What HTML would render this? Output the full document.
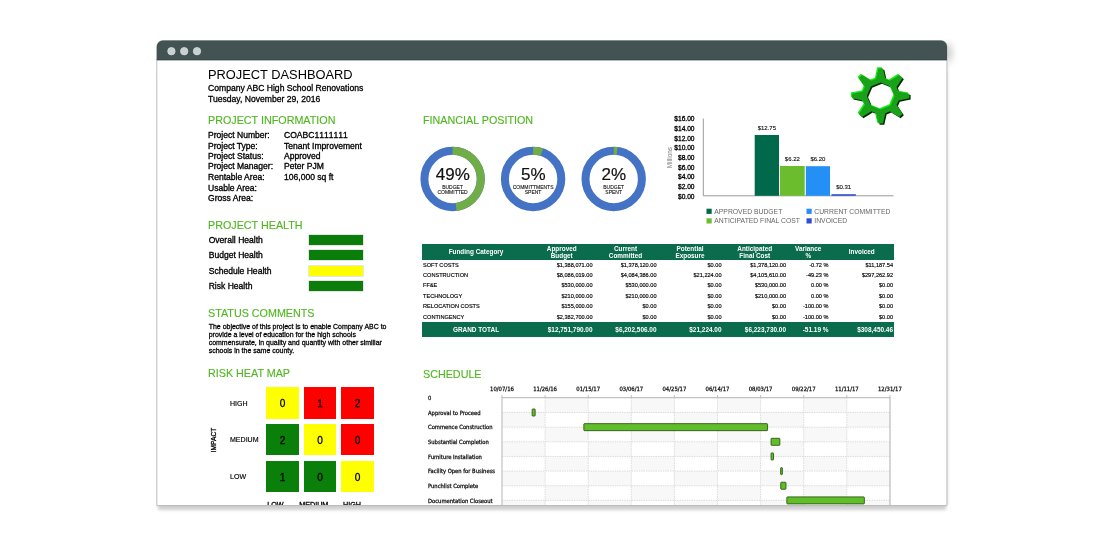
<!DOCTYPE html>
<html lang="en">
<head>
<meta charset="utf-8">
<title>Project Dashboard</title>
<style>
html,body{margin:0;padding:0;background:#fff;}
body{width:1104px;height:552px;position:relative;overflow:hidden;font-family:"Liberation Sans",Arial,sans-serif;color:#000;}
.abs{position:absolute;white-space:nowrap;}
#win{position:absolute;left:157px;top:64px;width:790px;height:441px;background:#fff;box-shadow:0 6px 3px -1px rgba(0,0,0,.19),1.5px 0 2.5px rgba(0,0,0,.06);}
#tsh{position:absolute;left:940px;top:42px;width:6px;height:16px;box-shadow:4px 3px 8px rgba(0,0,0,.33);}
#page{position:absolute;left:0;top:0;width:1104px;height:505px;overflow:hidden;}
h1{position:absolute;margin:0;left:208px;top:66.9px;font-size:12.85px;font-weight:400;line-height:15px;white-space:nowrap;}
.sub{position:absolute;left:208px;font-size:8.6px;line-height:10.4px;white-space:nowrap;-webkit-text-stroke:.3px #000;}
h2{position:absolute;margin:0;font-size:10.75px;font-weight:400;color:#4fb71f;line-height:13px;white-space:nowrap;-webkit-text-stroke:.12px #4fb71f;}
.info{position:absolute;left:208px;top:130px;font-size:8.55px;line-height:10.45px;-webkit-text-stroke:.32px #000;}
.info div{position:absolute;left:0;white-space:nowrap;height:10.45px;}
.info span{position:absolute;left:76px;}
.hl{position:absolute;left:208.7px;margin-top:.7px;font-size:8.55px;line-height:11px;white-space:nowrap;-webkit-text-stroke:.32px #000;}
.hb{position:absolute;left:309px;width:54px;height:10px;background:#0b7d0b;box-shadow:0 0 0 .5px #ccc;}
.cm{position:absolute;left:208.7px;top:322.9px;font-size:6.97px;line-height:8px;white-space:nowrap;-webkit-text-stroke:.27px #000;}
.cell{position:absolute;width:32.5px;height:31.3px;font-size:10.1px;line-height:34.6px;text-align:center;-webkit-text-stroke:.3px #000;}
.g{background:#0a7f0a;}.y{background:#ffff00;}.r{background:#ff0000;}
.rl{position:absolute;left:230px;margin-top:.5px;font-size:7.05px;line-height:10px;white-space:nowrap;-webkit-text-stroke:.15px #000;}
table{position:absolute;left:422px;top:244px;width:472px;border-collapse:collapse;table-layout:fixed;font-size:5.6px;}
th{background:#0b6b4d;color:#fff;font-weight:700;font-size:6.4px;line-height:7.2px;height:15.5px;padding:0;text-align:center;vertical-align:middle;}
td{padding:0 1px 0 0;height:10.4px;line-height:10.4px;text-align:right;white-space:nowrap;-webkit-text-stroke:.15px #000;}
td:first-child{text-align:left;padding-left:1px;}
tr.gt td{background:#0b6b4d;color:#fff;font-weight:700;font-size:6.45px;height:15.5px;line-height:15.5px;-webkit-text-stroke:0;}
tr.gt td:first-child{text-align:center;}
svg text{font-family:"Liberation Sans",Arial,sans-serif;}
svg text.dv{font-family:"DejaVu Sans Condensed","DejaVu Sans","Liberation Sans",sans-serif;}
</style>
</head>
<body>
<div id="win"></div>
<div id="tsh"></div>
<svg class="abs" style="left:0;top:0" width="1104" height="552" viewBox="0 0 1104 552">
<path d="M156.8 505.6V46.6a6 6 0 0 1 6-6H940.9a6 6 0 0 1 6 6V505.6Z" fill="#fff" stroke="#a6a6a6" stroke-width=".7"/>
<path d="M156.8 60.2V46.6a6 6 0 0 1 6-6H941a6 6 0 0 1 6 6V60.2Z" fill="#435353"/>
<path d="M156.8 59.7H947" stroke="#3a4949" stroke-width="1"/>
<g fill="#c7d1d1" stroke="#d3dbdb" stroke-width=".8"><circle cx="171.4" cy="51.2" r="3.7"/><circle cx="184.2" cy="51.2" r="3.7"/><circle cx="197" cy="51.2" r="3.7"/></g>
</svg>
<div id="page">
<h1>PROJECT DASHBOARD</h1>
<div class="sub" style="top:83px">Company ABC High School Renovations</div>
<div class="sub" style="top:94.2px">Tuesday, November 29, 2016</div>

<h2 style="left:208px;top:114px">PROJECT INFORMATION</h2>
<div class="info">
<div style="top:0px">Project Number:<span style="font-kerning:none">COABC1111111</span></div>
<div style="top:11px">Project Type:<span>Tenant Improvement</span></div>
<div style="top:21px">Project Status:<span>Approved</span></div>
<div style="top:31px">Project Manager:<span>Peter PJM</span></div>
<div style="top:42px">Rentable Area:<span>106,000 sq ft</span></div>
<div style="top:52.6px">Usable Area:</div>
<div style="top:63px">Gross Area:</div>
</div>

<h2 style="left:208px;top:218.5px">PROJECT HEALTH</h2>
<div class="hl" style="top:234px">Overall Health</div><div class="hb" style="top:234.5px"></div>
<div class="hl" style="top:249.5px">Budget Health</div><div class="hb" style="top:250px"></div>
<div class="hl" style="top:265px">Schedule Health</div><div class="hb" style="top:265.5px;background:#ffff00"></div>
<div class="hl" style="top:280.5px">Risk Health</div><div class="hb" style="top:281px"></div>

<h2 style="left:208px;top:307px">STATUS COMMENTS</h2>
<div class="cm">The objective of this project is to enable Company ABC to<br>provide a level of education for the high schools<br>commensurate, in quality and quantity with other similiar<br>schools in the same county.</div>

<h2 style="left:208px;top:367px">RISK HEAT MAP</h2>
<div class="rl" style="top:398px">HIGH</div>
<div class="rl" style="top:434.5px">MEDIUM</div>
<div class="rl" style="top:471px">LOW</div>
<div class="rl" style="left:214px;top:434.3px;transform:translate(-50%,0) rotate(-90deg);font-size:6.6px;-webkit-text-stroke:.3px #000">IMPACT</div>
<div class="cell y" style="left:266.4px;top:387.4px">0</div>
<div class="cell r" style="left:303.8px;top:387.4px">1</div>
<div class="cell r" style="left:341.2px;top:387.4px">2</div>
<div class="cell g" style="left:266.4px;top:424.1px">2</div>
<div class="cell y" style="left:303.8px;top:424.1px">0</div>
<div class="cell r" style="left:341.2px;top:424.1px">0</div>
<div class="cell g" style="left:266.4px;top:460.5px">1</div>
<div class="cell g" style="left:303.8px;top:460.5px">0</div>
<div class="cell y" style="left:341.2px;top:460.5px">0</div>
<div class="rl" style="left:267.2px;top:499.6px;font-size:7.2px;-webkit-text-stroke:.3px #000">LOW</div>
<div class="rl" style="left:299.2px;top:499.6px;font-size:7.2px;-webkit-text-stroke:.3px #000">MEDIUM</div>
<div class="rl" style="left:343px;top:499.6px;font-size:7.2px;-webkit-text-stroke:.3px #000">HIGH</div>

<h2 style="left:423px;top:114px">FINANCIAL POSITION</h2>
<h2 style="left:423px;top:368.4px">SCHEDULE</h2>

<table>
<colgroup><col style="width:108px"><col style="width:63.5px"><col style="width:64px"><col style="width:65px"><col style="width:64.5px"><col style="width:42.5px"><col style="width:64.5px"></colgroup>
<tr><th>Funding Category</th><th>Approved<br>Budget</th><th>Current<br>Committed</th><th>Potential<br>Exposure</th><th>Anticipated<br>Final Cost</th><th>Variance<br>%</th><th>Invoiced</th></tr>
<tr><td>SOFT COSTS</td><td>$1,388,071.00</td><td>$1,378,120.00</td><td>$0.00</td><td>$1,378,120.00</td><td>-0.72 %</td><td>$11,187.54</td></tr>
<tr><td>CONSTRUCTION</td><td>$8,086,019.00</td><td>$4,084,386.00</td><td>$21,224.00</td><td>$4,105,610.00</td><td>-49.23 %</td><td>$297,262.92</td></tr>
<tr><td>FF&amp;E</td><td>$530,000.00</td><td>$530,000.00</td><td>$0.00</td><td>$530,000.00</td><td>0.00 %</td><td>$0.00</td></tr>
<tr><td>TECHNOLOGY</td><td>$210,000.00</td><td>$210,000.00</td><td>$0.00</td><td>$210,000.00</td><td>0.00 %</td><td>$0.00</td></tr>
<tr><td>RELOCATION COSTS</td><td>$155,000.00</td><td>$0.00</td><td>$0.00</td><td>$0.00</td><td>-100.00 %</td><td>$0.00</td></tr>
<tr><td>CONTINGENCY</td><td>$2,382,700.00</td><td>$0.00</td><td>$0.00</td><td>$0.00</td><td>-100.00 %</td><td>$0.00</td></tr>
<tr class="gt"><td>GRAND TOTAL</td><td>$12,751,790.00</td><td>$6,202,506.00</td><td>$21,224.00</td><td>$6,223,730.00</td><td>-51.19 %</td><td>$308,450.46</td></tr>
</table>

<svg class="abs" style="left:0;top:0" width="1104" height="506" viewBox="0 0 1104 506">
<circle cx="452.6" cy="179" r="28.2" fill="none" stroke="#4472c4" stroke-width="8"/>
<path d="M452.6 150.8A28.2 28.2 0 0 1 456.04 206.99" fill="none" stroke="#70ad47" stroke-width="8"/>
<text x="452.8" y="179.9" font-size="17" text-anchor="middle" fill="#111" stroke="#111" stroke-width=".2">49%</text>
<text x="452.6" y="188.9" font-size="5" text-anchor="middle" fill="#111" stroke="#111" stroke-width=".1">BUDGET</text>
<text x="452.6" y="194.4" font-size="5" text-anchor="middle" fill="#111" stroke="#111" stroke-width=".1">COMMITTED</text>
<circle cx="533.1" cy="179" r="28.2" fill="none" stroke="#4472c4" stroke-width="8"/>
<path d="M533.1 150.8A28.2 28.2 0 0 1 541.81 152.18" fill="none" stroke="#70ad47" stroke-width="8"/>
<text x="533.3" y="179.9" font-size="17" text-anchor="middle" fill="#111" stroke="#111" stroke-width=".2">5%</text>
<text x="533.1" y="188.9" font-size="5" text-anchor="middle" fill="#111" stroke="#111" stroke-width=".1">COMMITTMENTS</text>
<text x="533.1" y="194.4" font-size="5" text-anchor="middle" fill="#111" stroke="#111" stroke-width=".1">SPENT</text>
<circle cx="613.7" cy="179" r="28.2" fill="none" stroke="#4472c4" stroke-width="8"/>
<path d="M613.7 150.8A28.2 28.2 0 0 1 617.14 151.01" fill="none" stroke="#70ad47" stroke-width="8"/>
<text x="613.9" y="179.9" font-size="17" text-anchor="middle" fill="#111" stroke="#111" stroke-width=".2">2%</text>
<text x="613.7" y="188.9" font-size="5" text-anchor="middle" fill="#111" stroke="#111" stroke-width=".1">BUDGET</text>
<text x="613.7" y="194.4" font-size="5" text-anchor="middle" fill="#111" stroke="#111" stroke-width=".1">SPENT</text>
<text x="694.5" y="121.3" font-size="6.6" text-anchor="end" fill="#000" stroke="#000" stroke-width=".3">$16.00</text>
<text x="694.5" y="130.95" font-size="6.6" text-anchor="end" fill="#000" stroke="#000" stroke-width=".3">$14.00</text>
<text x="694.5" y="140.6" font-size="6.6" text-anchor="end" fill="#000" stroke="#000" stroke-width=".3">$12.00</text>
<text x="694.5" y="150.25" font-size="6.6" text-anchor="end" fill="#000" stroke="#000" stroke-width=".3">$10.00</text>
<text x="694.5" y="159.9" font-size="6.6" text-anchor="end" fill="#000" stroke="#000" stroke-width=".3">$8.00</text>
<text x="694.5" y="169.55" font-size="6.6" text-anchor="end" fill="#000" stroke="#000" stroke-width=".3">$6.00</text>
<text x="694.5" y="179.2" font-size="6.6" text-anchor="end" fill="#000" stroke="#000" stroke-width=".3">$4.00</text>
<text x="694.5" y="188.85" font-size="6.6" text-anchor="end" fill="#000" stroke="#000" stroke-width=".3">$2.00</text>
<text x="694.5" y="198.5" font-size="6.6" text-anchor="end" fill="#000" stroke="#000" stroke-width=".3">$0.00</text>
<path d="M703.3 118.6V195.8H893.5" fill="none" stroke="#9a9a9a" stroke-width="1"/>
<rect x="754.7" y="135" width="24.3" height="60.8" fill="#00694b"/>
<text x="766.85" y="129.8" font-size="6" text-anchor="middle" fill="#111" stroke="#111" stroke-width=".12">$12.75</text>
<rect x="780" y="166" width="24.7" height="29.8" fill="#6cbd2d"/>
<text x="792.35" y="160.8" font-size="6" text-anchor="middle" fill="#111" stroke="#111" stroke-width=".12">$6.22</text>
<rect x="805.8" y="166.2" width="24.2" height="29.6" fill="#2490f5"/>
<text x="817.9" y="161" font-size="6" text-anchor="middle" fill="#111" stroke="#111" stroke-width=".12">$6.20</text>
<rect x="831.5" y="194.2" width="24.3" height="1.6" fill="#2d4fcf"/>
<text x="843.65" y="189" font-size="6" text-anchor="middle" fill="#111" stroke="#111" stroke-width=".12">$0.31</text>
<text transform="translate(672.3 157.6) rotate(-90)" font-size="6.4" text-anchor="middle" fill="#777">Millions</text>
<rect x="706.5" y="208.7" width="5.2" height="5.2" fill="#00694b"/>
<text x="714.3" y="213.7" font-size="6.8" fill="#666">APPROVED BUDGET</text>
<rect x="806.5" y="208.7" width="5.2" height="5.2" fill="#2490f5"/>
<text x="814.3" y="213.7" font-size="6.8" fill="#666">CURRENT COMMITTED</text>
<rect x="706.5" y="218.3" width="5.2" height="5.2" fill="#6cbd2d"/>
<text x="714.3" y="223.3" font-size="6.8" fill="#666">ANTICIPATED FINAL COST</text>
<rect x="806.5" y="218.3" width="5.2" height="5.2" fill="#2d4fcf"/>
<text x="814.3" y="223.3" font-size="6.8" fill="#666">INVOICED</text>
<g fill-rule="evenodd" transform="translate(880.7 96) scale(1 .965)">
<path d="M-4.6 -17.8L-2.3 -28.6L2.3 -28.6L4.6 -17.8L9.33 -15.84L18.6 -21.85L21.85 -18.6L15.84 -9.33L17.8 -4.6L28.6 -2.3L28.6 2.3L17.8 4.6L15.84 9.33L21.85 18.6L18.6 21.85L9.33 15.84L4.6 17.8L2.3 28.6L-2.3 28.6L-4.6 17.8L-9.33 15.84L-18.6 21.85L-21.85 18.6L-15.84 9.33L-17.8 4.6L-28.6 2.3L-28.6 -2.3L-17.8 -4.6L-15.84 -9.33L-21.85 -18.6L-18.6 -21.85L-9.33 -15.84ZM0 -13.9L9.83 -9.83L13.9 -0L9.83 9.83L0 13.9L-9.83 9.83L-13.9 0L-9.83 -9.83Z" fill="#002800" transform="translate(1.3 1.3)"/>
<path d="M-4.6 -17.8L-2.3 -28.6L2.3 -28.6L4.6 -17.8L9.33 -15.84L18.6 -21.85L21.85 -18.6L15.84 -9.33L17.8 -4.6L28.6 -2.3L28.6 2.3L17.8 4.6L15.84 9.33L21.85 18.6L18.6 21.85L9.33 15.84L4.6 17.8L2.3 28.6L-2.3 28.6L-4.6 17.8L-9.33 15.84L-18.6 21.85L-21.85 18.6L-15.84 9.33L-17.8 4.6L-28.6 2.3L-28.6 -2.3L-17.8 -4.6L-15.84 -9.33L-21.85 -18.6L-18.6 -21.85L-9.33 -15.84ZM0 -13.9L9.83 -9.83L13.9 -0L9.83 9.83L0 13.9L-9.83 9.83L-13.9 0L-9.83 -9.83Z" fill="#12ec12" transform="translate(-1.2 -1.2)"/>
<path d="M-4.6 -17.8L-2.3 -28.6L2.3 -28.6L4.6 -17.8L9.33 -15.84L18.6 -21.85L21.85 -18.6L15.84 -9.33L17.8 -4.6L28.6 -2.3L28.6 2.3L17.8 4.6L15.84 9.33L21.85 18.6L18.6 21.85L9.33 15.84L4.6 17.8L2.3 28.6L-2.3 28.6L-4.6 17.8L-9.33 15.84L-18.6 21.85L-21.85 18.6L-15.84 9.33L-17.8 4.6L-28.6 2.3L-28.6 -2.3L-17.8 -4.6L-15.84 -9.33L-21.85 -18.6L-18.6 -21.85L-9.33 -15.84ZM0 -13.9L9.83 -9.83L13.9 -0L9.83 9.83L0 13.9L-9.83 9.83L-13.9 0L-9.83 -9.83Z" fill="#19a219"/>
</g>
<rect x="502" y="412.5" width="43.1" height="14.65" fill="#f8f8f8"/>
<rect x="502" y="441.8" width="43.1" height="14.65" fill="#f8f8f8"/>
<rect x="502" y="471.1" width="43.1" height="14.65" fill="#f8f8f8"/>
<rect x="502" y="500.4" width="43.1" height="14.65" fill="#f8f8f8"/>
<rect x="545.1" y="397.7" width="43.1" height="14.8" fill="#f8f8f8"/>
<rect x="545.1" y="427.15" width="43.1" height="14.65" fill="#f8f8f8"/>
<rect x="545.1" y="456.45" width="43.1" height="14.65" fill="#f8f8f8"/>
<rect x="545.1" y="485.75" width="43.1" height="14.65" fill="#f8f8f8"/>
<rect x="588.2" y="412.5" width="43.1" height="14.65" fill="#f8f8f8"/>
<rect x="588.2" y="441.8" width="43.1" height="14.65" fill="#f8f8f8"/>
<rect x="588.2" y="471.1" width="43.1" height="14.65" fill="#f8f8f8"/>
<rect x="588.2" y="500.4" width="43.1" height="14.65" fill="#f8f8f8"/>
<rect x="631.3" y="397.7" width="43.1" height="14.8" fill="#f8f8f8"/>
<rect x="631.3" y="427.15" width="43.1" height="14.65" fill="#f8f8f8"/>
<rect x="631.3" y="456.45" width="43.1" height="14.65" fill="#f8f8f8"/>
<rect x="631.3" y="485.75" width="43.1" height="14.65" fill="#f8f8f8"/>
<rect x="674.4" y="412.5" width="43.1" height="14.65" fill="#f8f8f8"/>
<rect x="674.4" y="441.8" width="43.1" height="14.65" fill="#f8f8f8"/>
<rect x="674.4" y="471.1" width="43.1" height="14.65" fill="#f8f8f8"/>
<rect x="674.4" y="500.4" width="43.1" height="14.65" fill="#f8f8f8"/>
<rect x="717.5" y="397.7" width="43.1" height="14.8" fill="#f8f8f8"/>
<rect x="717.5" y="427.15" width="43.1" height="14.65" fill="#f8f8f8"/>
<rect x="717.5" y="456.45" width="43.1" height="14.65" fill="#f8f8f8"/>
<rect x="717.5" y="485.75" width="43.1" height="14.65" fill="#f8f8f8"/>
<rect x="760.6" y="412.5" width="43.1" height="14.65" fill="#f8f8f8"/>
<rect x="760.6" y="441.8" width="43.1" height="14.65" fill="#f8f8f8"/>
<rect x="760.6" y="471.1" width="43.1" height="14.65" fill="#f8f8f8"/>
<rect x="760.6" y="500.4" width="43.1" height="14.65" fill="#f8f8f8"/>
<rect x="803.7" y="397.7" width="43.1" height="14.8" fill="#f8f8f8"/>
<rect x="803.7" y="427.15" width="43.1" height="14.65" fill="#f8f8f8"/>
<rect x="803.7" y="456.45" width="43.1" height="14.65" fill="#f8f8f8"/>
<rect x="803.7" y="485.75" width="43.1" height="14.65" fill="#f8f8f8"/>
<rect x="846.8" y="412.5" width="43.1" height="14.65" fill="#f8f8f8"/>
<rect x="846.8" y="441.8" width="43.1" height="14.65" fill="#f8f8f8"/>
<rect x="846.8" y="471.1" width="43.1" height="14.65" fill="#f8f8f8"/>
<rect x="846.8" y="500.4" width="43.1" height="14.65" fill="#f8f8f8"/>
<text x="502" y="391" font-size="5.9" text-anchor="middle" fill="#111" class="dv" stroke="#111" stroke-width=".25">10/07/16</text>
<path d="M502 395.2V397.7" stroke="#aaa" stroke-width=".8"/>
<text x="545.1" y="391" font-size="5.9" text-anchor="middle" fill="#111" class="dv" stroke="#111" stroke-width=".25">11/26/16</text>
<path d="M545.1 397.7V506" stroke="#cdcdcd" stroke-width=".7" stroke-dasharray="1.4 1"/>
<path d="M545.1 395.2V397.7" stroke="#aaa" stroke-width=".8"/>
<text x="588.2" y="391" font-size="5.9" text-anchor="middle" fill="#111" class="dv" stroke="#111" stroke-width=".25">01/15/17</text>
<path d="M588.2 397.7V506" stroke="#cdcdcd" stroke-width=".7" stroke-dasharray="1.4 1"/>
<path d="M588.2 395.2V397.7" stroke="#aaa" stroke-width=".8"/>
<text x="631.3" y="391" font-size="5.9" text-anchor="middle" fill="#111" class="dv" stroke="#111" stroke-width=".25">03/06/17</text>
<path d="M631.3 397.7V506" stroke="#cdcdcd" stroke-width=".7" stroke-dasharray="1.4 1"/>
<path d="M631.3 395.2V397.7" stroke="#aaa" stroke-width=".8"/>
<text x="674.4" y="391" font-size="5.9" text-anchor="middle" fill="#111" class="dv" stroke="#111" stroke-width=".25">04/25/17</text>
<path d="M674.4 397.7V506" stroke="#cdcdcd" stroke-width=".7" stroke-dasharray="1.4 1"/>
<path d="M674.4 395.2V397.7" stroke="#aaa" stroke-width=".8"/>
<text x="717.5" y="391" font-size="5.9" text-anchor="middle" fill="#111" class="dv" stroke="#111" stroke-width=".25">06/14/17</text>
<path d="M717.5 397.7V506" stroke="#cdcdcd" stroke-width=".7" stroke-dasharray="1.4 1"/>
<path d="M717.5 395.2V397.7" stroke="#aaa" stroke-width=".8"/>
<text x="760.6" y="391" font-size="5.9" text-anchor="middle" fill="#111" class="dv" stroke="#111" stroke-width=".25">08/03/17</text>
<path d="M760.6 397.7V506" stroke="#cdcdcd" stroke-width=".7" stroke-dasharray="1.4 1"/>
<path d="M760.6 395.2V397.7" stroke="#aaa" stroke-width=".8"/>
<text x="803.7" y="391" font-size="5.9" text-anchor="middle" fill="#111" class="dv" stroke="#111" stroke-width=".25">09/22/17</text>
<path d="M803.7 397.7V506" stroke="#cdcdcd" stroke-width=".7" stroke-dasharray="1.4 1"/>
<path d="M803.7 395.2V397.7" stroke="#aaa" stroke-width=".8"/>
<text x="846.8" y="391" font-size="5.9" text-anchor="middle" fill="#111" class="dv" stroke="#111" stroke-width=".25">11/11/17</text>
<path d="M846.8 397.7V506" stroke="#cdcdcd" stroke-width=".7" stroke-dasharray="1.4 1"/>
<path d="M846.8 395.2V397.7" stroke="#aaa" stroke-width=".8"/>
<text x="889.9" y="391" font-size="5.9" text-anchor="middle" fill="#111" class="dv" stroke="#111" stroke-width=".25">12/31/17</text>
<path d="M889.9 397.7V506" stroke="#cdcdcd" stroke-width=".7" stroke-dasharray="1.4 1"/>
<path d="M889.9 395.2V397.7" stroke="#aaa" stroke-width=".8"/>
<path d="M502 412.5H890" stroke="#cdcdcd" stroke-width=".7" stroke-dasharray="1.4 1"/>
<path d="M502 427.15H890" stroke="#cdcdcd" stroke-width=".7" stroke-dasharray="1.4 1"/>
<path d="M502 441.8H890" stroke="#cdcdcd" stroke-width=".7" stroke-dasharray="1.4 1"/>
<path d="M502 456.45H890" stroke="#cdcdcd" stroke-width=".7" stroke-dasharray="1.4 1"/>
<path d="M502 471.1H890" stroke="#cdcdcd" stroke-width=".7" stroke-dasharray="1.4 1"/>
<path d="M502 485.75H890" stroke="#cdcdcd" stroke-width=".7" stroke-dasharray="1.4 1"/>
<path d="M502 500.4H890" stroke="#cdcdcd" stroke-width=".7" stroke-dasharray="1.4 1"/>
<path d="M502 506V397.7H890V506" fill="none" stroke="#c2c2c2" stroke-width="1.2"/>
<text x="428" y="400.4" font-size="5.8" fill="#111" class="dv" stroke="#111" stroke-width=".25">0</text>
<text x="428" y="414.6" font-size="5.8" fill="#111" class="dv" stroke="#111" stroke-width=".25">Approval to Proceed</text>
<text x="428" y="429.25" font-size="5.8" fill="#111" class="dv" stroke="#111" stroke-width=".25">Commence Construction</text>
<text x="428" y="443.9" font-size="5.8" fill="#111" class="dv" stroke="#111" stroke-width=".25">Substantial Completion</text>
<text x="428" y="458.55" font-size="5.8" fill="#111" class="dv" stroke="#111" stroke-width=".25">Furniture Installation</text>
<text x="428" y="473.2" font-size="5.8" fill="#111" class="dv" stroke="#111" stroke-width=".25">Facility Open for Business</text>
<text x="428" y="487.85" font-size="5.8" fill="#111" class="dv" stroke="#111" stroke-width=".25">Punchlist Complete</text>
<text x="428" y="502.5" font-size="5.8" fill="#111" class="dv" stroke="#111" stroke-width=".25">Documentation Closeout</text>
<rect x="532.15" y="409" width="3" height="7" rx=".6" fill="#62bd2b" stroke="#2b5a12" stroke-width=".9"/>
<rect x="583.85" y="423.65" width="183.7" height="7" rx=".6" fill="#62bd2b" stroke="#2b5a12" stroke-width=".9"/>
<rect x="771.05" y="438.3" width="8.8" height="7" rx=".6" fill="#62bd2b" stroke="#2b5a12" stroke-width=".9"/>
<rect x="771.05" y="452.95" width="2.5" height="7" rx=".6" fill="#62bd2b" stroke="#2b5a12" stroke-width=".9"/>
<rect x="780.65" y="467.6" width="1.7" height="7" rx=".6" fill="#62bd2b" stroke="#2b5a12" stroke-width=".9"/>
<rect x="780.75" y="482.25" width="5.2" height="7" rx=".6" fill="#62bd2b" stroke="#2b5a12" stroke-width=".9"/>
<rect x="786.85" y="496.9" width="77.5" height="7" rx=".6" fill="#62bd2b" stroke="#2b5a12" stroke-width=".9"/>
</svg>
</div>
</body>
</html>
